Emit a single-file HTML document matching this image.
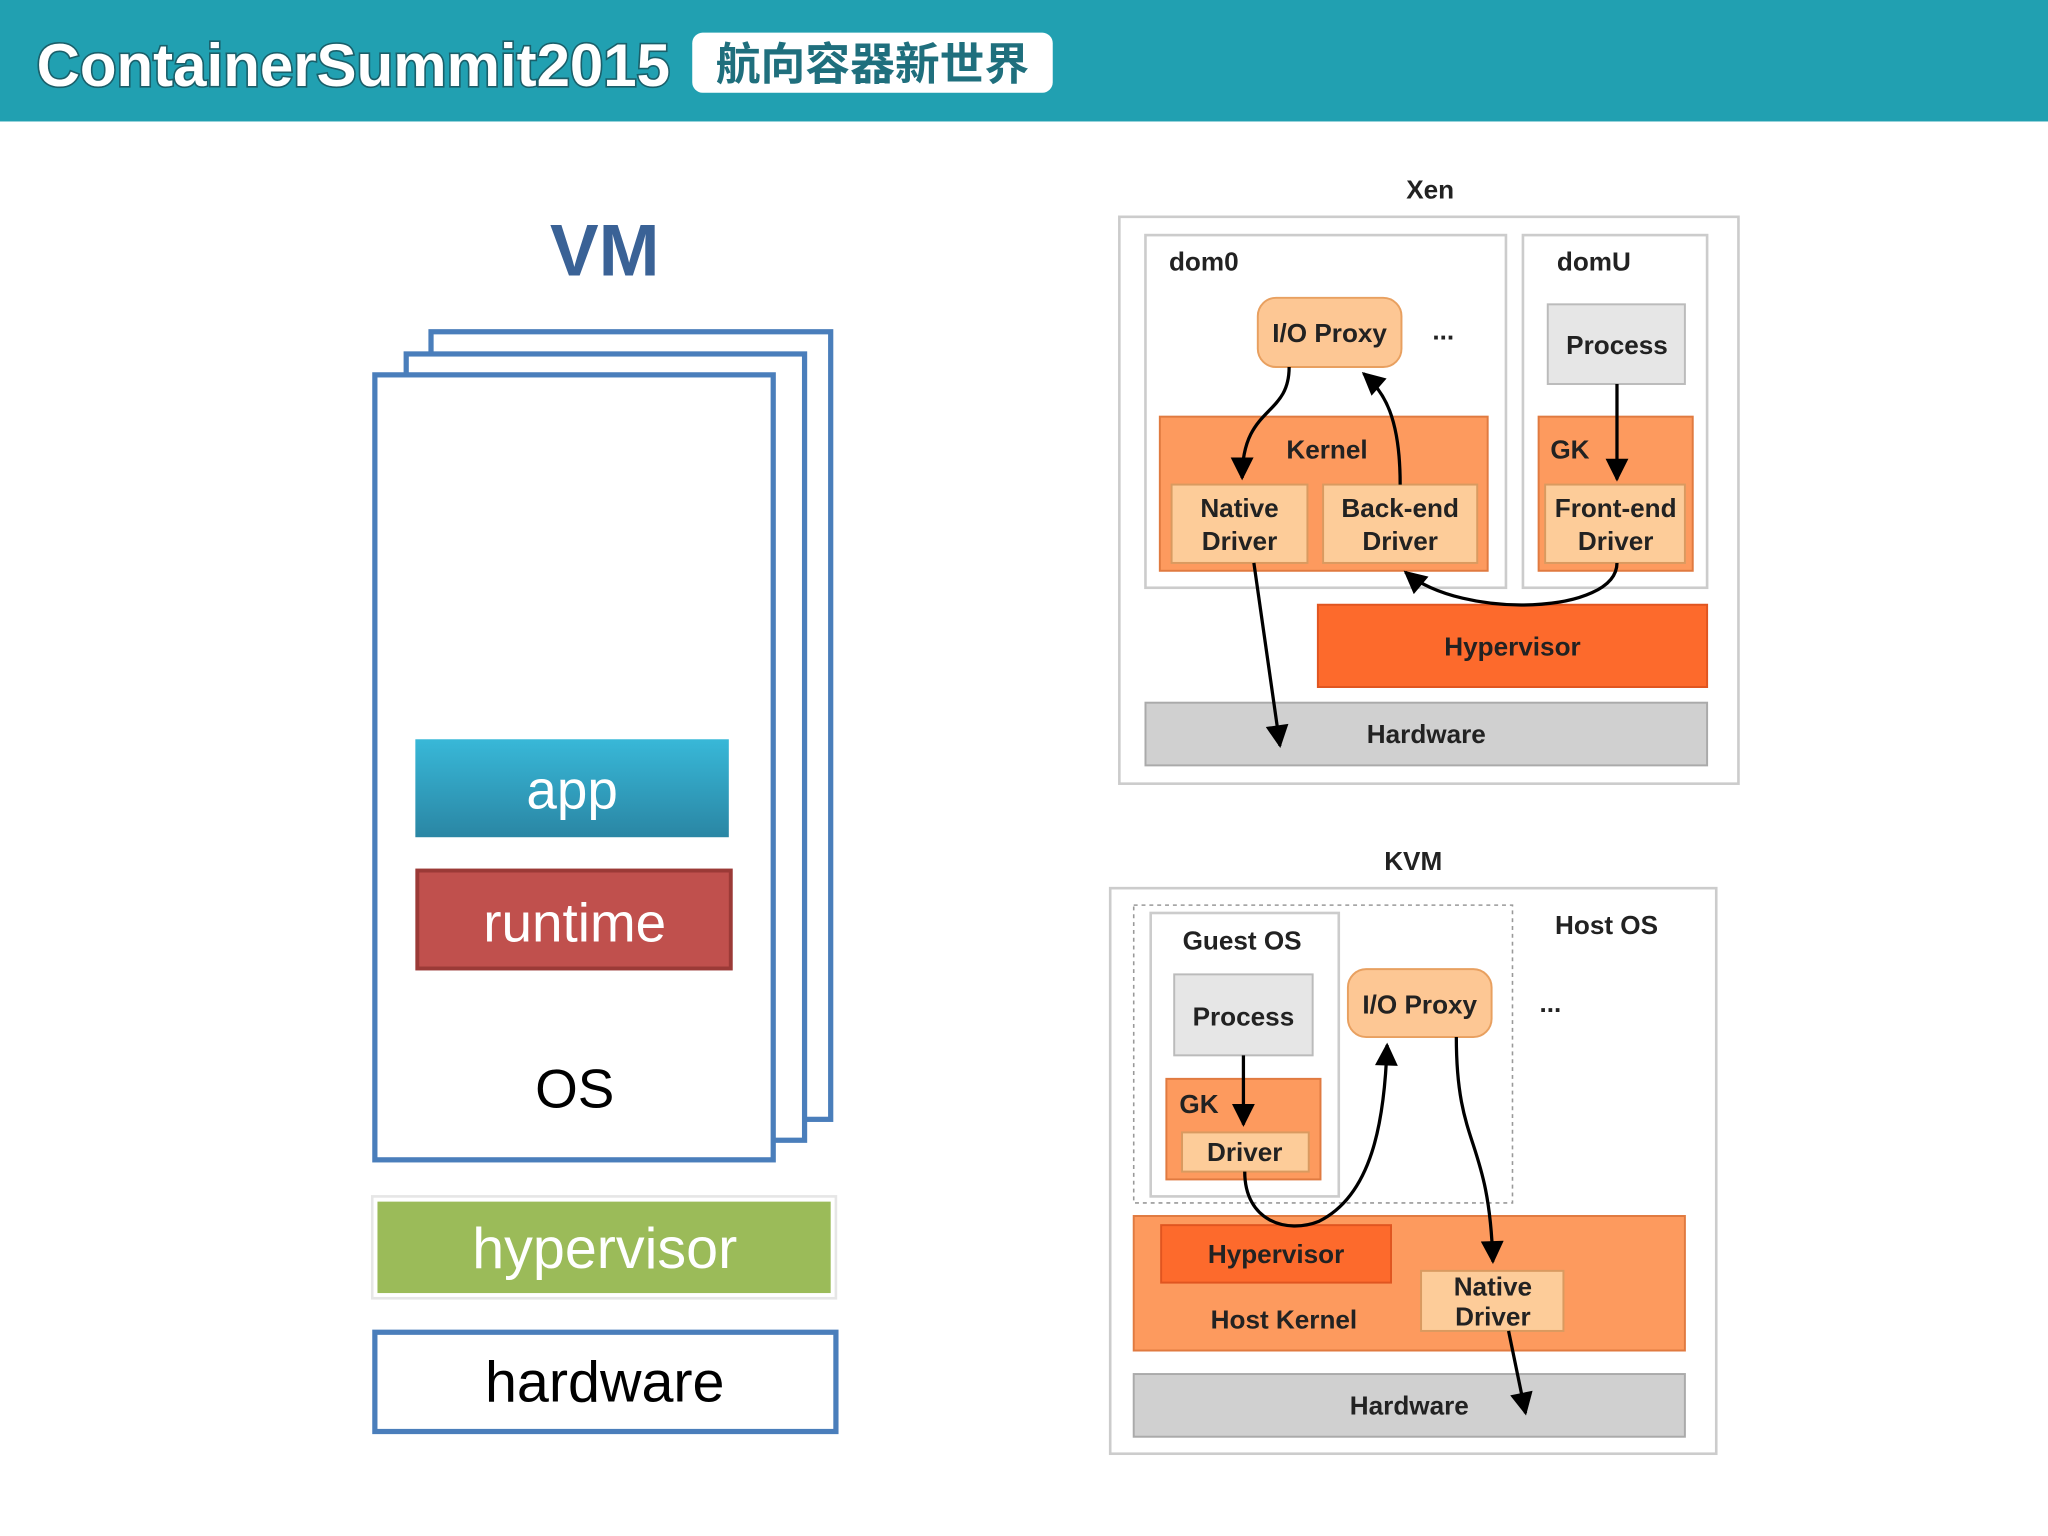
<!DOCTYPE html>
<html><head><meta charset="utf-8"><style>
html,body{margin:0;padding:0;background:#fff;}
svg{display:block;}
text{font-family:"Liberation Sans","Noto Sans CJK SC",sans-serif;}
</style></head><body>
<svg width="2048" height="1536" viewBox="0 0 1568 1176" preserveAspectRatio="none" xmlns="http://www.w3.org/2000/svg">
<defs>
<linearGradient id="ga" x1="0" y1="0" x2="0" y2="1"><stop offset="0" stop-color="#38b8d8"/><stop offset="1" stop-color="#2a86a4"/></linearGradient>
<marker id="ah" viewBox="0 0 10 10" refX="9" refY="5" markerWidth="8" markerHeight="7" orient="auto"><path d="M0,0 L10,5 L0,10 z" fill="#000"/></marker>
</defs>
<rect x="0" y="0" width="1568" height="93" fill="#21a0b1"/>
<text x="28" y="66" font-size="46" font-weight="bold" fill="#fff" stroke="#1a5f6a" stroke-width="2.5" paint-order="stroke" textLength="485" lengthAdjust="spacingAndGlyphs">ContainerSummit2015</text>
<rect x="530" y="25" width="276" height="46" rx="8" fill="#fff"/>
<text x="668" y="61" font-size="34" font-weight="bold" fill="#1f6f7d" text-anchor="middle" textLength="240" lengthAdjust="spacingAndGlyphs">航向容器新世界</text>

<text x="463" y="211" font-size="56" font-weight="bold" fill="#3a6296" text-anchor="middle">VM</text>
<g fill="#fff" stroke="#4a7ebb" stroke-width="4">
<rect x="330" y="254" width="306" height="603"/>
<rect x="311" y="271" width="305" height="602"/>
<rect x="287" y="287" width="305" height="601"/>
</g>
<rect x="318" y="566" width="240" height="75" fill="url(#ga)"/>
<text x="438" y="619" font-size="42" fill="#fff" text-anchor="middle">app</text>
<rect x="319.5" y="666.5" width="240" height="75" fill="#c0504d" stroke="#9b3a37" stroke-width="3"/>
<text x="440" y="721" font-size="42" fill="#fff" text-anchor="middle">runtime</text>
<text x="440" y="848" font-size="42" fill="#000" text-anchor="middle">OS</text>
<rect x="285" y="916" width="355" height="78" fill="#fff" stroke="#e6e6e6" stroke-width="2"/>
<rect x="289" y="920" width="347" height="70" fill="#9bbb59"/>
<text x="463" y="971" font-size="44" fill="#fff" text-anchor="middle">hypervisor</text>
<rect x="287" y="1020" width="353" height="76" fill="#fff" stroke="#4a7ebb" stroke-width="4"/>
<text x="463" y="1073" font-size="44" fill="#000" text-anchor="middle">hardware</text>

<!-- Xen -->
<g font-weight="bold" font-size="20" fill="#222">
<text x="1095" y="152" text-anchor="middle">Xen</text>
<rect x="857" y="166" width="474" height="434" fill="#fff" stroke="#ccc" stroke-width="2"/>
<rect x="877" y="180" width="276" height="270" fill="#fff" stroke="#ccc" stroke-width="2"/>
<rect x="1166" y="180" width="141" height="270" fill="#fff" stroke="#ccc" stroke-width="2"/>
<text x="895" y="207">dom0</text>
<text x="1192" y="207">domU</text>
<rect x="963" y="228" width="110" height="53" rx="14" fill="#fdc794" stroke="#e8a060" stroke-width="1.5"/>
<text x="1018" y="262" text-anchor="middle">I/O Proxy</text>
<text x="1105" y="260" text-anchor="middle">...</text>
<rect x="1185" y="233" width="105" height="61" fill="#e6e6e6" stroke="#bbb" stroke-width="1.5"/>
<text x="1238" y="271" text-anchor="middle">Process</text>
<rect x="888" y="319" width="251" height="118" fill="#fd9a5e" stroke="#e07a40" stroke-width="1.5"/>
<text x="1016" y="351" text-anchor="middle">Kernel</text>
<rect x="897" y="371" width="104" height="60" fill="#fdcc99" stroke="#d99a60" stroke-width="1.5"/>
<text x="949" y="396" text-anchor="middle">Native</text><text x="949" y="421" text-anchor="middle">Driver</text>
<rect x="1013" y="371" width="118" height="60" fill="#fdcc99" stroke="#d99a60" stroke-width="1.5"/>
<text x="1072" y="396" text-anchor="middle">Back-end</text><text x="1072" y="421" text-anchor="middle">Driver</text>
<rect x="1178" y="319" width="118" height="118" fill="#fd9a5e" stroke="#e07a40" stroke-width="1.5"/>
<text x="1187" y="351">GK</text>
<rect x="1183" y="371" width="107" height="60" fill="#fdcc99" stroke="#d99a60" stroke-width="1.5"/>
<text x="1237" y="396" text-anchor="middle">Front-end</text><text x="1237" y="421" text-anchor="middle">Driver</text>
<rect x="1009" y="463" width="298" height="63" fill="#fd6a2c" stroke="#e05520" stroke-width="1.5"/>
<text x="1158" y="502" text-anchor="middle">Hypervisor</text>
<rect x="877" y="538" width="430" height="48" fill="#d0d0d0" stroke="#aaa" stroke-width="1.5"/>
<text x="1092" y="569" text-anchor="middle">Hardware</text>
</g>
<g fill="none" stroke="#000" stroke-width="2.5" marker-end="url(#ah)">
<path d="M987,281 C987,320 951,310 951,366"/>
<path d="M1072,371 C1072,320 1060,300 1044,286"/>
<path d="M1238,294 L1238,367"/>
<path d="M1238,431 C1238,470 1120,475 1076,438"/>
<path d="M960,431 L980,571"/>
</g>

<!-- KVM -->
<g font-weight="bold" font-size="20" fill="#222">
<text x="1082" y="666" text-anchor="middle">KVM</text>
<rect x="850" y="680" width="464" height="433" fill="#fff" stroke="#ccc" stroke-width="2"/>
<rect x="868" y="693" width="290" height="228" fill="none" stroke="#999" stroke-width="1.2" stroke-dasharray="3,3"/>
<rect x="881" y="699" width="144" height="217" fill="#fff" stroke="#ccc" stroke-width="2"/>
<text x="951" y="727" text-anchor="middle">Guest OS</text>
<rect x="899" y="746" width="106" height="62" fill="#e6e6e6" stroke="#bbb" stroke-width="1.5"/>
<text x="952" y="785" text-anchor="middle">Process</text>
<rect x="893" y="826" width="118" height="77" fill="#fd9a5e" stroke="#e07a40" stroke-width="1.5"/>
<text x="903" y="852">GK</text>
<rect x="905" y="867" width="97" height="30" fill="#fdcc99" stroke="#d99a60" stroke-width="1.5"/>
<text x="953" y="889" text-anchor="middle">Driver</text>
<rect x="1032" y="742" width="110" height="52" rx="14" fill="#fdc794" stroke="#e8a060" stroke-width="1.5"/>
<text x="1087" y="776" text-anchor="middle">I/O Proxy</text>
<text x="1187" y="775" text-anchor="middle">...</text>
<text x="1230" y="715" text-anchor="middle">Host OS</text>
<rect x="868" y="931" width="422" height="103" fill="#fd9a5e" stroke="#e07a40" stroke-width="1.5"/>
<rect x="889" y="938" width="176" height="44" fill="#fd6a2c" stroke="#e05520" stroke-width="1.5"/>
<text x="977" y="967" text-anchor="middle">Hypervisor</text>
<text x="983" y="1017" text-anchor="middle">Host Kernel</text>
<rect x="1088" y="973" width="109" height="46" fill="#fdcc99" stroke="#d99a60" stroke-width="1.5"/>
<text x="1143" y="992" text-anchor="middle">Native</text><text x="1143" y="1015" text-anchor="middle">Driver</text>
<rect x="868" y="1052" width="422" height="48" fill="#d0d0d0" stroke="#aaa" stroke-width="1.5"/>
<text x="1079" y="1083" text-anchor="middle">Hardware</text>
</g>
<g fill="none" stroke="#000" stroke-width="2.5" marker-end="url(#ah)">
<path d="M952,808 L952,861"/>
<path d="M953,897 C953,935 985,945 1010,935 C1050,915 1060,860 1062,800"/>
<path d="M1115,794 C1115,880 1140,870 1143,966"/>
<path d="M1155,1019 L1168,1082"/>
</g>
</svg>
</body></html>
